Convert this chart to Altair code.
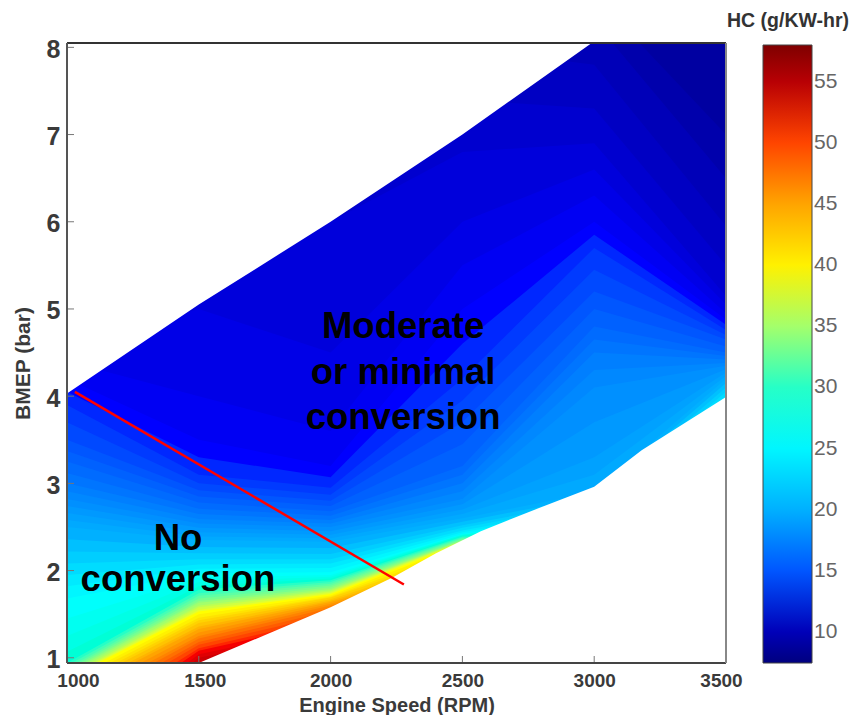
import altair as alt
import pandas as pd

RPM = [1000, 1500, 2000, 2500, 3000, 3500]
FINE_LEVELS = [9, 9.5, 10, 10.5, 11, 11.5, 12, 12.5, 13, 13.5, 14, 14.5, 15, 15.5, 16, 16.5, 17, 17.5, 18, 18.5, 19, 19.5, 20]
COARSE_LEVELS = list(range(21, 56))
LEVELS = FINE_LEVELS + COARSE_LEVELS

# BMEP at which HC falls to each level, read along each engine speed
AT_1000 = [9.0, 5.4, 5.3, 5.2, 5.0, 4.8, 4.6, 4.4, 4.2, 4.05, 3.9, 3.7, 3.5, 3.37, 3.25, 3.12, 3.0, 2.91, 2.82, 2.74, 2.66, 2.58, 2.5,
           2.36, 2.22, 2.08, 1.95, 1.82, 1.68, 1.45, 1.25, 1.07, 0.94, 0.91, 0.88, 0.86, 0.84, 0.82, 0.8, 0.78, 0.77, 0.76, 0.72, 0.69, 0.65, 0.62, 0.58, 0.55, 0.5, 0.45, 0.4, 0.34, 0.27, 0.16, 0.05, -0.08, -0.2, -0.4]
AT_1500 = [9.0, 6.4, 6.2, 6.1, 5.9, 5.6, 5.0, 4.0, 3.5, 3.3, 3.1, 3.0, 2.92, 2.85, 2.78, 2.71, 2.65, 2.59, 2.54, 2.49, 2.44, 2.39, 2.35,
           2.27, 2.2, 2.13, 2.07, 2.02, 1.97, 1.92, 1.87, 1.82, 1.78, 1.74, 1.71, 1.68, 1.65, 1.63, 1.6, 1.58, 1.55, 1.53, 1.5, 1.46, 1.43, 1.4, 1.36, 1.33, 1.29, 1.25, 1.22, 1.18, 1.15, 1.11, 1.08, 1.04, 1.0, 0.95]
AT_2000 = [9.0, 8.0, 7.5, 7.1, 6.7, 6.0, 4.5, 3.6, 3.2, 3.07, 2.95, 2.87, 2.8, 2.74, 2.68, 2.63, 2.58, 2.54, 2.5, 2.45, 2.41, 2.37, 2.33,
           2.26, 2.19, 2.13, 2.08, 2.03, 1.98, 1.95, 1.93, 1.91, 1.89, 1.87, 1.85, 1.83, 1.81, 1.79, 1.775, 1.76, 1.745, 1.73, 1.715, 1.7, 1.69, 1.67, 1.655, 1.64, 1.62, 1.6, 1.57, 1.54, 1.5, 1.46, 1.42, 1.36, 1.3, 1.2]
AT_2500 = [9.0, 8.8, 8.5, 8.0, 7.4, 6.8, 6.0, 5.5, 5.0, 4.6, 4.2, 3.95, 3.7, 3.45, 3.2, 3.1, 3.0, 2.91, 2.82, 2.76, 2.7, 2.65, 2.6,
           2.56, 2.52, 2.49, 2.46, 2.44, 2.42, 2.415, 2.41, 2.4, 2.39, 2.38, 2.37, 2.36, 2.35, 2.345, 2.34, 2.335, 2.33, 2.32, 2.3, 2.25, 2.2, 2.15, 2.1, 2.04, 2.01, 1.98, 1.95, 1.92, 1.9, 1.86, 1.82, 1.78, 1.74, 1.7]
AT_3000 = [9.0, 8.6, 8.3, 7.8, 7.3, 6.9, 6.6, 6.3, 6.0, 5.85, 5.7, 5.45, 5.2, 5.0, 4.8, 4.65, 4.5, 4.3, 4.1, 3.7, 3.3, 3.1, 2.9,
           2.85, 2.8, 2.77, 2.74, 2.7, 2.65, 2.6, 2.55, 2.5, 2.45, 2.4, 2.35, 2.3, 2.25, 2.2, 2.15, 2.1, 2.05, 2.0, 1.95, 1.9, 1.85, 1.8, 1.75, 1.7, 1.65, 1.6, 1.58, 1.56, 1.54, 1.52, 1.5, 1.48, 1.46, 1.44]
AT_3500 = [9.0, 7.0, 6.5, 5.95, 5.5, 5.15, 5.05, 4.95, 4.88, 4.82, 4.76, 4.7, 4.65, 4.57, 4.5, 4.46, 4.42, 4.38, 4.35, 4.31, 4.27, 4.23, 4.2,
           4.15, 4.1, 4.05, 4.0, 3.9, 3.8, 3.7, 3.6, 3.5, 3.4, 3.3, 3.2, 3.1, 3.0, 2.9, 2.8, 2.7, 2.6, 2.5, 2.4, 2.3, 2.2, 2.1, 2.0, 1.9, 1.8, 1.7, 1.65, 1.6, 1.55, 1.5, 1.48, 1.46, 1.44, 1.42]
COLUMNS = [AT_1000, AT_1500, AT_2000, AT_2500, AT_3000, AT_3500]

# Edges of the measured region
TOP_RPM = [1000, 1500, 2000, 2500, 3000, 3500]
TOP_BMEP = [4.03, 5.05, 6.0, 7.0, 8.07, 9.0]
LOW_RPM = [1000, 1500, 2000, 2235, 2400, 2570, 2750, 3000, 3180, 3500]
LOW_BMEP = [0.5, 0.94, 1.58, 1.92, 2.2, 2.45, 2.67, 2.96, 3.38, 3.99]

COLOR_DOMAIN = [7.46, 13.0, 25.7, 39.0, 51.5, 58.0]
COLOR_RANGE = ["#00007f", "#0000ff", "#00ffff", "#ffff00", "#ff0000", "#7f0000"]
LEGEND_TICKS = [10, 15, 20, 25, 30, 35, 40, 45, 50, 55]
X_TICKS = [1000, 1500, 2000, 2500, 3000, 3500]
Y_TICKS = [1, 2, 3, 4, 5, 6, 7, 8]

NOTE_TEXT = ["Moderate", "or minimal", "conversion", "No", "conversion"]
NOTE_RPM = [2275, 2275, 2275, 1421, 1421]
NOTE_BMEP = [4.79, 4.26, 3.75, 2.36, 1.89]
DIVIDER_RPM = [1030, 2278]
DIVIDER_BMEP = [4.05, 1.84]

W, H = 659, 620
xs = alt.Scale(domain=[1000, 3500], nice=False, zero=False)
ys = alt.Scale(domain=[0.94, 8.05], nice=False, zero=False)
FONT = "Liberation Sans"
INK = "#3a3a3a"

bands = pd.DataFrame(
    [{"rpm": r, "bmep": col[i], "level": lv}
     for i, lv in enumerate(LEVELS)
     for r, col in zip(RPM, COLUMNS)]
)

x_enc = alt.X(
    "rpm:Q", scale=xs,
    axis=alt.Axis(
        values=X_TICKS, title="Engine Speed (RPM)", format="d", grid=False, domain=False,
        ticks=False, labelFont=FONT, labelFontWeight="bold", labelFontSize=19,
        labelColor=INK, labelPadding=8, titleFont=FONT, titleFontWeight="bold",
        titleFontSize=20, titleColor=INK, titlePadding=5, labelFlush=False,
        labelOffset=alt.ExprRef("datum.value == 1000 ? 11 : datum.value == 1500 ? 6 : datum.value == 3500 ? -5 : 0"),
    ),
)
y_enc = alt.Y(
    "bmep:Q", scale=ys,
    axis=alt.Axis(
        values=Y_TICKS, title="BMEP (bar)", format="d", grid=False, domain=False,
        ticks=False, labelFont=FONT, labelFontWeight="bold", labelFontSize=25,
        labelColor=INK, labelPadding=7, titleFont=FONT, titleFontWeight="bold",
        titleFontSize=21, titleColor=INK, titleX=-34, titleY=320, labelOffset=2,
    ),
)
color_scale = alt.Scale(domain=COLOR_DOMAIN, range=COLOR_RANGE)

field = (
    alt.Chart(bands)
    .mark_area(clip=True, interpolate="linear")
    .encode(
        x=x_enc, y=y_enc, y2=alt.Y2(datum=-2), detail="level:O",
        color=alt.Color(
            "level:Q", scale=color_scale,
            legend=alt.Legend(
                title=None, orient="none", legendX=696, legendY=2, gradientLength=618,
                gradientThickness=49, values=LEGEND_TICKS, labelFont=FONT, labelFontSize=21,
                labelColor="#666666", labelOffset=2, gradientStrokeColor="#444444",
                gradientStrokeWidth=1, direction="vertical", labelOverlap=False,
            ),
        ),
    )
)

upper = (
    alt.Chart(pd.DataFrame({"rpm": TOP_RPM, "bmep": TOP_BMEP}))
    .mark_area(color="white", clip=True)
    .encode(x=alt.X("rpm:Q", scale=xs), y=alt.Y("bmep:Q", scale=ys), y2=alt.Y2(datum=10))
)
lower = (
    alt.Chart(pd.DataFrame({"rpm": LOW_RPM, "bmep": LOW_BMEP}))
    .mark_area(color="white", clip=True)
    .encode(x=alt.X("rpm:Q", scale=xs), y=alt.Y("bmep:Q", scale=ys), y2=alt.Y2(datum=-2))
)

x_marks = (
    alt.Chart(pd.DataFrame({"t": X_TICKS}))
    .mark_rule(color="#777777", strokeWidth=1)
    .encode(x=alt.X("t:Q", scale=xs), y=alt.value(H - 7), y2=alt.value(H))
)
y_marks = (
    alt.Chart(pd.DataFrame({"t": Y_TICKS}))
    .mark_rule(color="#777777", strokeWidth=1)
    .encode(y=alt.Y("t:Q", scale=ys), x=alt.value(0), x2=alt.value(7))
)

top_edge = alt.Chart().mark_rule(color="#333333", strokeWidth=2).encode(x=alt.value(0), x2=alt.value(W), y=alt.value(0))
bottom_edge = alt.Chart().mark_rule(color="#444444", strokeWidth=2).encode(x=alt.value(0), x2=alt.value(W), y=alt.value(H))
left_edge = alt.Chart().mark_rule(color="#555555", strokeWidth=2).encode(x=alt.value(0), y=alt.value(0), y2=alt.value(H))
right_edge = alt.Chart().mark_rule(color="#888888", strokeWidth=2).encode(x=alt.value(W), y=alt.value(0), y2=alt.value(H))

divider = (
    alt.Chart(pd.DataFrame({"rpm": DIVIDER_RPM, "bmep": DIVIDER_BMEP}))
    .mark_line(color="#ff0000", strokeWidth=2.5)
    .encode(x=alt.X("rpm:Q", scale=xs), y=alt.Y("bmep:Q", scale=ys))
)
notes = (
    alt.Chart(pd.DataFrame({"rpm": NOTE_RPM, "bmep": NOTE_BMEP, "s": NOTE_TEXT}))
    .mark_text(font=FONT, fontWeight="bold", fontSize=36.5, color="black", align="center", baseline="middle")
    .encode(x=alt.X("rpm:Q", scale=xs), y=alt.Y("bmep:Q", scale=ys), text="s:N")
)
bar_title = (
    alt.Chart(pd.DataFrame({"s": ["HC (g/KW-hr)"]}))
    .mark_text(font=FONT, fontWeight="bold", fontSize=19.5, color="#333333", align="left", baseline="middle")
    .encode(x=alt.value(660), y=alt.value(-22), text="s:N")
)

chart = (
    alt.layer(field, upper, lower, x_marks, y_marks, top_edge, bottom_edge, left_edge, right_edge, divider, notes, bar_title)
    .properties(
        width=W, height=H,
        autosize=alt.AutoSizeParams(type="none"),
        padding={"left": 59, "top": 35, "right": 127, "bottom": 52},
    )
    .configure_view(stroke=None)
)

chart.save("out.html", embed_options={"renderer": "svg", "actions": False})
